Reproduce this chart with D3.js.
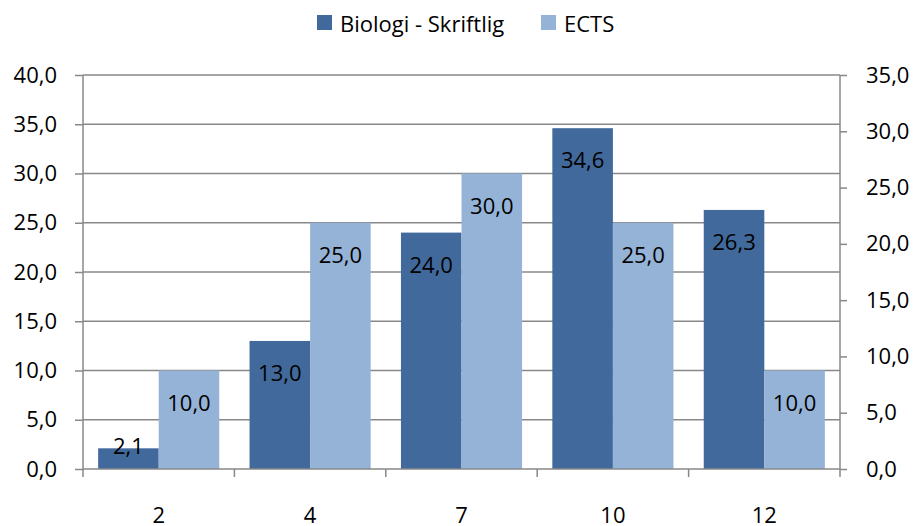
<!DOCTYPE html>
<html>
<head>
<meta charset="utf-8">
<script src="https://cdn.jsdelivr.net/npm/d3@7"></script>
<style>
  body { margin: 0; background: #fff; }
  text { font-family: "Open Sans", Lato, sans-serif; fill: #000; }
</style>
</head>
<body>
<svg id="chart" width="916" height="526"></svg>
<script>
const categories = ["2", "4", "7", "10", "12"];
const seriesNames = ["Biologi - Skriftlig", "ECTS"];
const biologi = [2.1, 13.0, 24.0, 34.6, 26.3];
const ects = [10.0, 25.0, 30.0, 25.0, 10.0];
const leftTicks = [0, 5, 10, 15, 20, 25, 30, 35, 40];
const rightTicks = [0, 5, 10, 15, 20, 25, 30, 35];
const colors = ["#41699b", "#95b3d7"];

const svg = d3.select("#chart");
const plotLeft = 83, plotRight = 840, plotTop = 75, plotBottom = 469;
const fmt = v => d3.format(".1f")(v).replace(".", ",");
const gray = "#888888";
const fontSize = 22;

const x = d3.scaleBand().domain(categories).range([plotLeft, plotRight])
    .paddingInner(0.2).paddingOuter(0.1);
const x1 = d3.scaleBand().domain(seriesNames).range([0, x.bandwidth()]);
const y = d3.scaleLinear().domain([0, 40]).range([plotBottom, plotTop]);
const yR = d3.scaleLinear().domain([0, 35]).range([plotBottom, plotTop]);

// gridlines
svg.append("g").selectAll("line")
    .data(leftTicks.filter(d => d > 0))
    .enter().append("line")
    .attr("x1", plotLeft).attr("x2", plotRight)
    .attr("y1", d => y(d)).attr("y2", d => y(d))
    .attr("stroke", gray).attr("stroke-width", 1.5);

// bars
const rows = categories.map((c, i) => ({cat: c, values: [biologi[i], ects[i]]}));
const group = svg.selectAll(".grp")
    .data(rows)
    .enter().append("g")
    .attr("class", "grp")
    .attr("transform", d => "translate(" + x(d.cat) + ",0)");

const bar = group.selectAll("g")
    .data(d => d.values.map((v, j) => ({name: seriesNames[j], value: v, j: j})))
    .enter().append("g");

bar.append("rect")
    .attr("x", d => x1(d.name))
    .attr("width", x1.bandwidth())
    .attr("y", d => y(d.value))
    .attr("height", d => plotBottom - y(d.value))
    .attr("fill", d => colors[d.j]);

bar.append("text")
    .attr("x", d => x1(d.name) + x1.bandwidth() / 2)
    .attr("y", d => Math.min(y(d.value) + 31, plotBottom - 24))
    .attr("text-anchor", "middle")
    .attr("dominant-baseline", "central")
    .style("font-size", fontSize + "px")
    .text(d => fmt(d.value));

// axes
const leftAxis = svg.append("g").attr("transform", "translate(" + plotLeft + ",0)")
    .call(d3.axisLeft(y).tickValues(leftTicks).tickSize(8).tickPadding(18).tickFormat(fmt));
const rightAxis = svg.append("g").attr("transform", "translate(" + plotRight + ",0)")
    .call(d3.axisRight(yR).tickValues(rightTicks).tickSize(7).tickPadding(19).tickFormat(fmt));
[leftAxis, rightAxis].forEach(a => {
    a.select(".domain").remove();
    a.selectAll("line").attr("stroke", gray).attr("stroke-width", 1.5);
    a.selectAll("text").style("font-size", fontSize + "px").attr("font-family", null);
});
svg.append("line").attr("x1", plotLeft).attr("x2", plotLeft).attr("y1", plotTop).attr("y2", plotBottom + 8)
    .attr("stroke", gray).attr("stroke-width", 1.5);
svg.append("line").attr("x1", plotRight).attr("x2", plotRight).attr("y1", plotTop).attr("y2", plotBottom + 8)
    .attr("stroke", gray).attr("stroke-width", 1.5);

// x axis
const step = x.step();
const bounds = categories.map(c => x(c) - step * x.paddingInner() / 2);
bounds.push(plotRight);
svg.append("line").attr("x1", plotLeft).attr("x2", plotRight).attr("y1", plotBottom).attr("y2", plotBottom)
    .attr("stroke", gray).attr("stroke-width", 1.5);
svg.append("g").selectAll("line")
    .data(bounds.slice(1, -1))
    .enter().append("line")
    .attr("x1", d => d).attr("x2", d => d)
    .attr("y1", plotBottom).attr("y2", plotBottom + 8)
    .attr("stroke", gray).attr("stroke-width", 1.5);
svg.append("g").selectAll("text")
    .data(categories)
    .enter().append("text")
    .attr("x", d => x(d) + x.bandwidth() / 2)
    .attr("y", 514)
    .attr("text-anchor", "middle")
    .attr("dominant-baseline", "central")
    .style("font-size", fontSize + "px")
    .text(d => d);

// legend
const legendX = [317, 541];
const legend = svg.append("g").selectAll("g")
    .data(seriesNames)
    .enter().append("g")
    .attr("transform", (d, i) => "translate(" + legendX[i] + ",15)");
legend.append("rect").attr("width", 15).attr("height", 15).attr("fill", (d, i) => colors[i]);
legend.append("text").attr("x", 23).attr("y", 7.5)
    .attr("dominant-baseline", "central")
    .style("font-size", fontSize + "px")
    .text(d => d);
</script>
</body>
</html>
